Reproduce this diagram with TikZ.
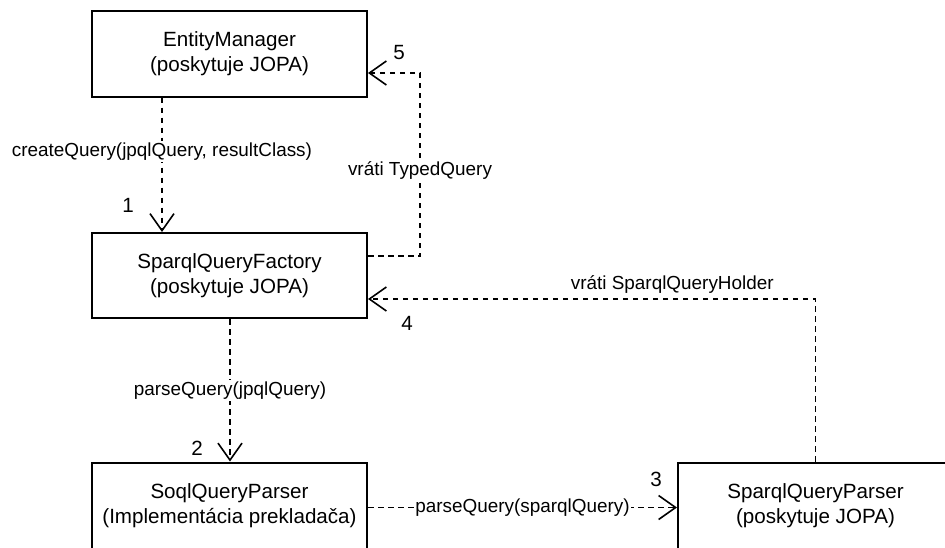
\documentclass[tikz,border=0pt]{standalone}
\usepackage{fontspec}
\setmainfont{Liberation Sans}
\usetikzlibrary{arrows.meta}
\newcommand\bxfont{\fontsize{20.6}{25}\selectfont}
\newcommand\lbfont{\fontsize{18.9}{22.7}\selectfont}
\begin{document}
\begin{tikzpicture}[x=1pt,y=-1pt,
  box/.style={draw, line width=2pt, minimum width=275pt, minimum height=86pt,
    align=center, font=\bxfont, inner sep=0pt},
  flow/.style={draw, line width=1.6pt, dash pattern=on 5.5pt off 4.5pt,
    -{Straight Barb[length=17pt,width=24pt,line width=1.6pt]}},
  lbl/.style={font=\lbfont, fill=white, inner sep=1.5pt},
  num/.style={font=\bxfont, inner sep=0pt}]
\useasboundingbox (0,0) rectangle (945,547);
\clip (0,0) rectangle (945,547);

% components
\node[box] (em)  at (229.5,53.5)  {EntityManager\\(poskytuje JOPA)};
\node[box, minimum height=85pt] (sqf) at (229.5,275.5) {SparqlQueryFactory\\(poskytuje JOPA)};
\node[box] (sqp) at (229.5,505.5) {SoqlQueryParser\\(Implementácia prekladača)};
\node[box] (spp) at (815.5,505.5) {SparqlQueryParser\\(poskytuje JOPA)};

% bend point of the TypedQuery return
\coordinate (c5) at (420,170);

% calls and returns
\draw[flow] ([xshift=-67.5pt]em.south) -- node[lbl, pos=0.4] {createQuery(jpqlQuery, resultClass)} ([xshift=-67.5pt]sqf.north);
\draw[flow] ([xshift=0.5pt]sqf.south) -- node[lbl] {parseQuery(jpqlQuery)} ([xshift=0.5pt]sqp.north);
\draw[flow] ([yshift=-2pt]sqp.east) -- node[lbl] {parseQuery(sparqlQuery)} ([yshift=-2pt]spp.west);
\draw[flow] (spp.north) |- node[font=\lbfont, pos=0.66, above=1pt] {vráti SparqlQueryHolder} ([yshift=-23.5pt]sqf.east);
\draw[flow] ([yshift=19.5pt]sqf.east) -| (c5) node[lbl] {vráti TypedQuery} |- ([yshift=-19.5pt]em.east);

% step numbers
\node[num] (n1) at (128,205) {1};
\node[num] (n2) at (197,448) {2};
\node[num] (n3) at (656,479) {3};
\node[num] (n4) at (407,323) {4};
\node[num] (n5) at (399,53) {5};
\end{tikzpicture}
\end{document}
